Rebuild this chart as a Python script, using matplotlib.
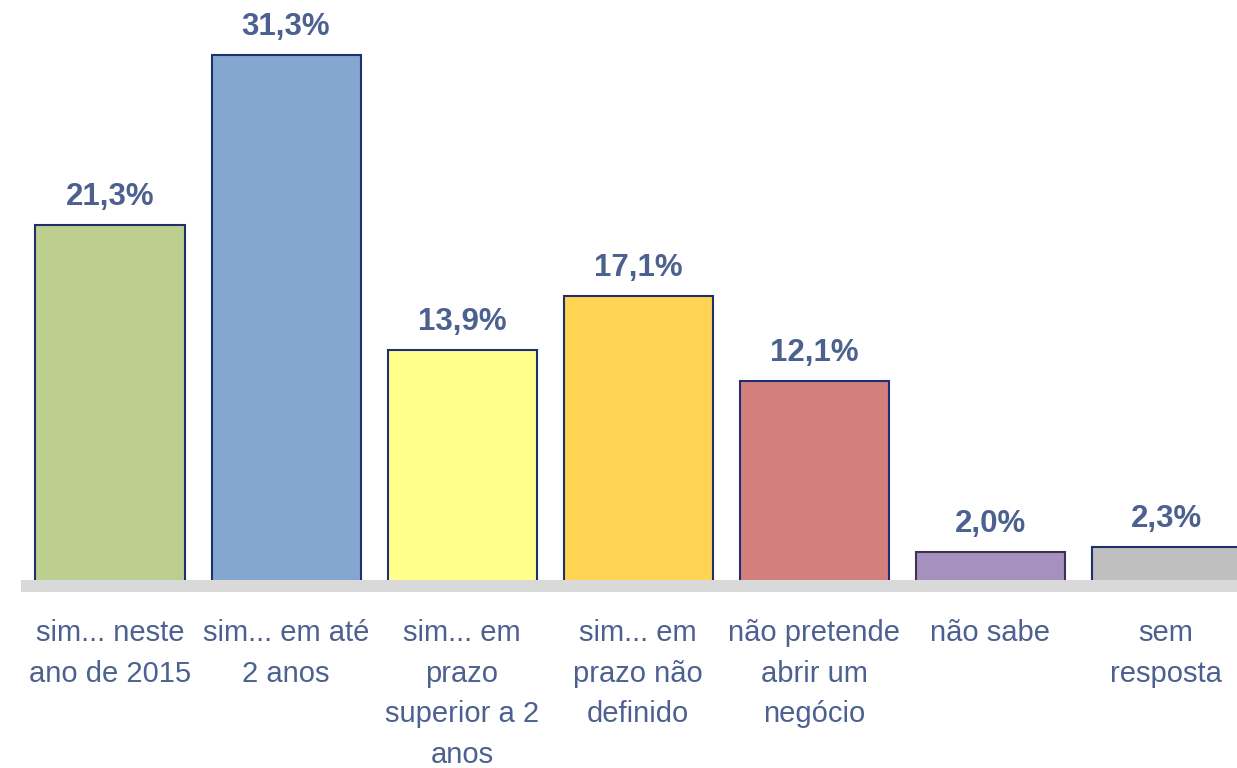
import matplotlib.pyplot as plt
from matplotlib.patches import Rectangle

# Data
categories = ["sim... neste\nano de 2015", "sim... em até\n2 anos", "sim... em\nprazo\nsuperior a 2\nanos",
              "sim... em\nprazo não\ndefinido", "não pretende\nabrir um\nnegócio", "não sabe", "sem\nresposta"]
values = [21.3, 31.3, 13.9, 17.1, 12.1, 2.0, 2.3]
labels = ["21,3%", "31,3%", "13,9%", "17,1%", "12,1%", "2,0%", "2,3%"]
colors = ["#BDCF8E", "#84A7CF", "#FFFF8C", "#FFD452", "#D37F7E", "#A691BE", "#BFBFBF"]
edges = ["#1F2F6F", "#1F2F6F", "#1F2F6F", "#1F2F6F", "#1F2F6F", "#3E3152", "#1F2F6F"]

plt.rcParams['font.family'] = ['Liberation Sans Narrow', 'Liberation Sans', 'DejaVu Sans']
text_color = "#4C6190"

fig = plt.figure(figsize=(12.37, 7.68), dpi=100)
ax = fig.add_axes([0, 0, 1, 1])

# pixel scales (zero line sits 586 px from the top)
px_x = 176.0
px_y = 16.96
ax.set_xlim(-110 / px_x, (1237 - 110) / px_x)
ax.set_ylim(-182 / px_y, 586 / px_y)
ax.axis('off')

# gray baseline band, drawn over the bar bottoms
ax.add_patch(Rectangle(((21 - 110) / px_x, -6 / px_y), 8, 12 / px_y,
                       facecolor="#D9D9D9", edgecolor="none", zorder=3))

x = list(range(len(values)))
ax.bar(x, values, width=149 / px_x, color=colors, edgecolor=edges, linewidth=1.5, zorder=2)

for i, (v, lab) in enumerate(zip(values, labels)):
    ax.text(i, v + 20 / px_y, lab, ha='center', va='baseline', fontsize=22.5,
            fontweight='bold', color=text_color)
    ax.text(i, -33 / px_y, categories[i], ha='center', va='top', fontsize=21,
            color=text_color, linespacing=1.57)

plt.savefig("out.png", dpi=100)
